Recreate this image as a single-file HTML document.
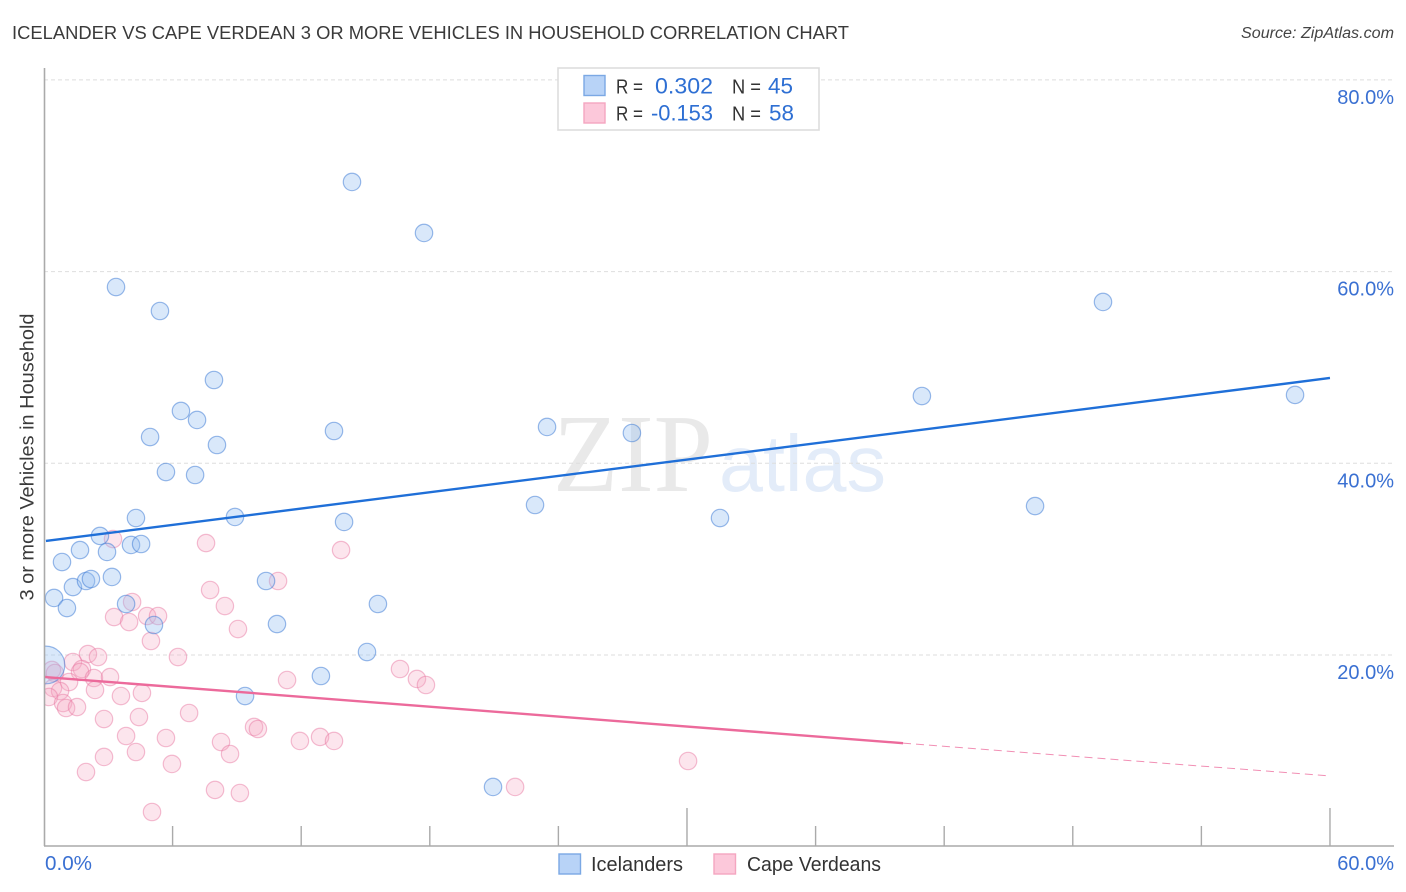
<!DOCTYPE html>
<html lang="en">
<head>
<meta charset="utf-8">
<title>Icelander vs Cape Verdean correlation chart</title>
<style>
  html, body { margin: 0; padding: 0; background: #fff; width: 1406px; height: 892px; overflow: hidden; }
  svg { display: block; font-family: "Liberation Sans", sans-serif; }
</style>
</head>
<body>
<svg id="chart" xmlns="http://www.w3.org/2000/svg" width="1406" height="892" viewBox="0 0 1406 892">
  <defs>
    <clipPath id="plot-clip"><rect x="45" y="60" width="1350" height="786"></rect></clipPath>
  </defs>
  <text x="12" y="39" font-size="18" fill="#3a3a3a" textLength="837" lengthAdjust="spacingAndGlyphs">ICELANDER VS CAPE VERDEAN 3 OR MORE VEHICLES IN HOUSEHOLD CORRELATION CHART</text>
  <text x="1394" y="38" font-size="15.5" font-style="italic" fill="#444" text-anchor="end" textLength="153" lengthAdjust="spacingAndGlyphs">Source: ZipAtlas.com</text>
  <g>
    <text x="553" y="491" font-family="'Liberation Serif', serif" font-size="111" fill="#e9e9e9" textLength="160" lengthAdjust="spacingAndGlyphs">ZIP</text>
    <text x="719" y="491" font-family="'Liberation Sans', sans-serif" font-size="80" fill="#e3ecf9" textLength="167" lengthAdjust="spacingAndGlyphs">atlas</text>
  </g>
  <g id="grid"></g>
  <g id="y-labels"></g>
  <g id="points" clip-path="url(#plot-clip)"></g>
  <g id="trends"></g>
  <g id="axes"></g>
  <text transform="translate(33.5,457) rotate(-90)" font-size="19.5" fill="#3a3a3a" text-anchor="middle" textLength="287" lengthAdjust="spacingAndGlyphs">3 or more Vehicles in Household</text>
  <text x="45" y="870" font-size="20" fill="#3a70d2" textLength="47" lengthAdjust="spacingAndGlyphs">0.0%</text>
  <text x="1394" y="870" font-size="20" fill="#3a70d2" text-anchor="end">60.0%</text>

  <g>
    <rect x="558" y="68" width="261" height="62" fill="#fff" stroke="#ddd" stroke-width="1.6"></rect>
    <rect x="584" y="75.5" width="21" height="20" fill="#b8d3f7" stroke="#7ba8e4" stroke-width="1.4"></rect>
    <rect x="584" y="103" width="21" height="20" fill="#fcc8da" stroke="#f4a6c0" stroke-width="1.4"></rect>
    <text x="616" y="93.5" font-size="20" fill="#333" textLength="27" lengthAdjust="spacingAndGlyphs">R =</text>
    <text x="713" y="93.5" font-size="22" fill="#2e6fd3" text-anchor="end" textLength="58" lengthAdjust="spacingAndGlyphs">0.302</text>
    <text x="732" y="93.5" font-size="20" fill="#333" textLength="29" lengthAdjust="spacingAndGlyphs">N =</text>
    <text x="768" y="93.5" font-size="22" fill="#2e6fd3" textLength="25" lengthAdjust="spacingAndGlyphs">45</text>
    <text x="616" y="120.5" font-size="20" fill="#333" textLength="27" lengthAdjust="spacingAndGlyphs">R =</text>
    <text x="713" y="120.5" font-size="22" fill="#2e6fd3" text-anchor="end" textLength="62" lengthAdjust="spacingAndGlyphs">-0.153</text>
    <text x="732" y="120.5" font-size="20" fill="#333" textLength="29" lengthAdjust="spacingAndGlyphs">N =</text>
    <text x="769" y="120.5" font-size="22" fill="#2e6fd3" textLength="25" lengthAdjust="spacingAndGlyphs">58</text>
  </g>

  <g>
    <rect x="559" y="854" width="21.5" height="20" fill="#b8d3f7" stroke="#7ba8e4" stroke-width="1.4"></rect>
    <text x="591" y="871" font-size="20" fill="#333" textLength="92" lengthAdjust="spacingAndGlyphs">Icelanders</text>
    <rect x="714" y="854" width="21.5" height="20" fill="#fcc8da" stroke="#f4a6c0" stroke-width="1.4"></rect>
    <text x="747" y="871" font-size="20" fill="#333" textLength="134" lengthAdjust="spacingAndGlyphs">Cape Verdeans</text>
  </g>
</svg>
<script>
// Data values (all in percent)
const icelanderX = [14.37,17.73,3.36,5.41,49.41,7.93,40.96,58.37,6.39,7.14,4.95,8.07,13.53,23.47,27.43,5.69,7.05,22.91,46.24,4.29,8.91,14.00,31.54,2.61,4.06,4.53,1.68,2.94,0.84,1.35,1.96,2.19,3.17,10.36,0.47,1.07,3.83,15.58,5.13,10.87,15.07,12.92,9.38,20.95,0.09];
const icelanderY = [69.35,64.03,58.39,55.89,56.83,48.69,47.02,47.13,45.46,44.52,42.74,41.91,43.37,43.79,43.16,39.09,38.78,35.65,35.54,34.29,34.40,33.88,34.29,32.42,31.48,31.58,30.95,30.75,29.70,27.09,27.72,27.93,28.14,27.72,25.95,24.90,25.32,25.32,23.13,23.23,20.31,17.81,15.72,6.23,18.96];
const icelanderWeight = [1,1,1,1,1,1,1,1,1,1,1,1,1,1,1,1,1,1,1,1,1,1,1,1,1,1,1,1,1,1,1,1,1,1,1,1,1,1,1,1,1,1,1,1,4.7];
const capeVerdeanX = [3.22,7.56,13.86,10.92,7.75,8.44,4.11,3.27,3.97,4.81,5.32,9.05,4.99,6.25,2.05,2.52,1.35,1.77,1.68,2.33,3.08,11.34,1.17,2.38,4.57,3.59,0.37,0.51,0.42,0.75,0.23,0.89,1.03,1.54,2.80,4.43,6.77,3.83,5.69,9.80,9.98,8.26,8.68,11.94,12.88,13.53,2.80,4.29,1.96,5.97,7.98,9.14,5.04,16.61,17.40,17.82,21.98,30.05];
const capeVerdeanY = [32.10,31.68,30.95,27.72,26.78,25.11,25.53,23.96,23.44,24.07,24.07,22.71,21.46,19.79,20.10,19.79,19.27,18.54,18.23,17.60,17.70,17.39,17.18,16.35,16.04,15.72,18.44,18.12,16.56,16.24,15.62,14.99,14.47,14.57,13.32,13.53,13.95,11.55,11.34,12.49,12.28,10.92,9.67,11.03,11.45,11.03,9.36,9.88,7.79,8.63,5.92,5.60,3.62,18.54,17.50,16.87,6.23,8.94];
const yTicks = [20, 40, 60, 80];
const yTickLabels = ["20.0%", "40.0%", "60.0%", "80.0%"];
const xTicks = [6, 12, 18, 24, 30, 36, 42, 48, 54, 60];
const xMajorTicks = [30, 60];
const icelanderTrendX = [0.09, 60];
const icelanderTrendY = [31.9, 48.9];
const capeVerdeanSolidX = [0, 40.08];
const capeVerdeanSolidY = [17.7, 10.8];
const capeVerdeanDashedX = [40.08, 60];
const capeVerdeanDashedY = [10.8, 7.38];

const NS = 'http://www.w3.org/2000/svg';
function xScale(v) { return 44 + v * 21.433; }
function yScale(v) { return 846.7 - v * 9.585; }
function make(tag, attrs, parent) {
  const el = document.createElementNS(NS, tag);
  for (const k in attrs) el.setAttribute(k, attrs[k]);
  parent.appendChild(el);
  return el;
}

const grid = document.getElementById('grid');
const yLabels = document.getElementById('y-labels');
yTicks.forEach(function (t, i) {
  const line = make('line', { x1: 44, x2: 1394, y1: yScale(t), y2: yScale(t), stroke: '#dedede', 'stroke-width': 1, 'stroke-dasharray': '4 3' }, grid);
  
  
  const label = make('text', { x: 1394, y: yScale(t) + 24, 'font-size': 20, fill: '#3a70d2', 'text-anchor': 'end' }, yLabels);
  label.textContent = yTickLabels[i];
  
  
});

const pts = document.getElementById('points');
capeVerdeanX.forEach(function (x, i) {
  const c = make('circle', { cx: xScale(x), cy: yScale(capeVerdeanY[i]), r: 8.7, fill: 'rgba(246,170,197,0.3)', stroke: 'rgba(232,120,160,0.48)', 'stroke-width': 1.2 }, pts);
  
  
});
icelanderX.forEach(function (x, i) {
  const c = make('circle', { cx: xScale(x), cy: yScale(icelanderY[i]), r: 8.7 * Math.sqrt(icelanderWeight[i]), fill: 'rgba(150,192,242,0.36)', stroke: 'rgba(62,122,212,0.52)', 'stroke-width': 1.2 }, pts);
  
  
});

const trends = document.getElementById('trends');
const blueLine = make('line', { x1: xScale(icelanderTrendX[0]), y1: yScale(icelanderTrendY[0]), x2: xScale(icelanderTrendX[1]), y2: yScale(icelanderTrendY[1]), stroke: '#1f6fd8', 'stroke-width': 2.4 }, trends);


const pinkLine = make('line', { x1: xScale(capeVerdeanSolidX[0]) + 1, y1: yScale(capeVerdeanSolidY[0]), x2: xScale(capeVerdeanSolidX[1]), y2: yScale(capeVerdeanSolidY[1]), stroke: '#ec6a9b', 'stroke-width': 2.4 }, trends);


const pinkDash = make('line', { x1: xScale(capeVerdeanDashedX[0]), y1: yScale(capeVerdeanDashedY[0]), x2: xScale(capeVerdeanDashedX[1]), y2: yScale(capeVerdeanDashedY[1]), stroke: '#ec6a9b', 'stroke-width': 1, 'stroke-dasharray': '8 5', 'stroke-opacity': 0.75 }, trends);



const axes = document.getElementById('axes');
const yAxis = make('line', { x1: 44.5, x2: 44.5, y1: 68, y2: 846, stroke: '#aaa', 'stroke-width': 1.6 }, axes);


const xAxis = make('line', { x1: 44, x2: 1394, y1: 846, y2: 846, stroke: '#aaa', 'stroke-width': 1.6 }, axes);


xTicks.forEach(function (t) {
  const major = xMajorTicks.indexOf(t) !== -1;
  const tick = make('line', { x1: xScale(t), x2: xScale(t), y1: major ? 808 : 826, y2: 846, stroke: '#aaa', 'stroke-width': 1.4 }, axes);
  
  
});
</script>
</body>
</html>
